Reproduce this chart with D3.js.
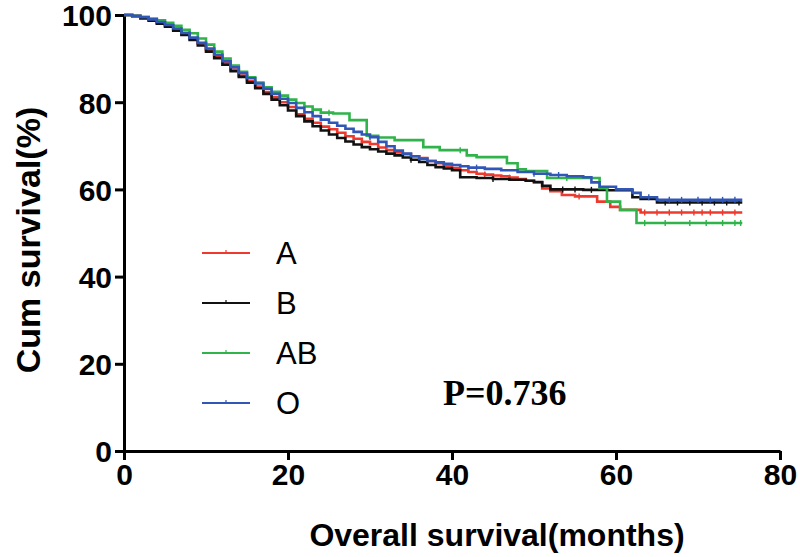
<!DOCTYPE html>
<html>
<head>
<meta charset="utf-8">
<script src="https://cdn.jsdelivr.net/npm/d3@7"></script>
<style>
  body { margin: 0; background: #fff; }
  svg { display: block; }
</style>
</head>
<body>
<div id="chart"></div>
<script>
// survival curves: [month, cum survival %]
const groups = ["A", "B", "AB", "O"];
const colors = ["#ee3a2e", "#111111", "#2fb34a", "#3157b6"];

const curveA = [[0,100],[1,99.8],[2,99.4],[3,98.9],[4,98.3],[5,97.6],[6,96.7],[7,95.7],[8,94.6],[9,93.4],[10,92.0],[11,90.5],[12,89.0],[13,87.5],[14,86.1],[15,84.8],[16,83.6],[17,82.3],[18,81.1],[19,80.0],[20,78.9],[21,77.2],[22,76.2],[23,75.3],[24,74.4],[25,73.8],[26,73.0],[27,72.2],[28,71.6],[29,70.9],[30,70.4],[31,69.6],[32,69.0],[33,68.5],[34,68.1],[35,67.6],[36,67.2],[37,66.5],[38,66.0],[39,65.4],[40,64.9],[41,64.4],[42,64.0],[43,63.6],[44,63.4],[45,63.2],[46,63.0],[47,62.7],[48,62.4],[49,62.0],[50,61.6],[51,60.2],[52,59.6],[53.4,58.7],[55,58.4],[57.7,57.2],[59.3,56.0],[60.5,55.3],[63,54.7],[75.4,54.7]];
const curveB = [[0,100],[1,99.7],[2,99.2],[3,98.7],[4,98.0],[5,97.3],[6,96.4],[7,95.4],[8,94.3],[9,93.0],[10,91.6],[11,90.1],[12,88.6],[13,87.1],[14,85.8],[15,84.5],[16,83.2],[17,81.9],[18,80.6],[19,79.3],[20,78.1],[21,76.8],[22,75.6],[23,74.5],[24,73.5],[25,72.6],[26,71.8],[27,71.0],[28,70.3],[29,69.7],[30,69.2],[31,68.7],[32,68.2],[33,67.8],[34,67.3],[35,66.8],[36,66.3],[37,65.6],[38,65.1],[39,64.8],[40,64.4],[41,62.8],[43,62.6],[45,62.4],[47,62.2],[49,62.0],[50,61.7],[51,60.8],[52,60.0],[56,59.9],[59,59.8],[62,58.2],[63,57.8],[65,57.0],[75.4,57.0]];
const curveAB = [[0,100],[1,99.8],[2,99.6],[3,99.2],[4,98.8],[5,98.2],[6,97.5],[7,96.6],[8,95.8],[9,94.6],[10,93.2],[11,91.6],[12,90.0],[13,88.4],[14,87.0],[15,85.7],[16,84.5],[17,83.4],[18,82.4],[19,81.5],[20,80.6],[21,79.8],[22,79.0],[23,78.3],[24,77.6],[25.5,77.4],[27.5,75.9],[29.6,72.3],[31,71.9],[33,71.3],[36.5,69.7],[38.5,69.0],[41.8,67.8],[43,67.4],[46.7,66.0],[48,64.6],[49,64.2],[51.6,62.6],[58,60.3],[58.9,57.2],[60.5,55.3],[62.5,52.3],[75.4,52.3]];
const curveO = [[0,100],[1,99.8],[2,99.5],[3,99.0],[4,98.4],[5,97.7],[6,96.9],[7,95.9],[8,94.8],[9,93.6],[10,92.3],[11,90.9],[12,89.4],[13,88.0],[14,86.7],[15,85.5],[16,84.3],[17,83.1],[18,81.9],[19,80.8],[20,79.8],[21,78.7],[22,77.7],[23,76.8],[24,76.0],[25,75.3],[26,74.6],[27,73.9],[28,73.2],[29,72.6],[30,72.0],[31,70.9],[32,69.9],[33,68.9],[34,68.2],[35,67.6],[36,67.0],[37,66.5],[38,66.2],[39,65.9],[40,65.6],[41,65.3],[42,65.0],[44,64.7],[46,64.4],[48,64.0],[50,63.6],[52,63.3],[54,63.0],[56,62.8],[57,61.6],[58,60.6],[60,60.0],[62,59.2],[63,58.2],[65,57.6],[75.4,57.6]];

// censored times (small tick marks)
const censorA = [44, 47, 55.5, 63.5, 65, 66.5, 68, 69.5, 70.5, 71.5, 73, 74.5];
const censorB = [35, 45, 53.5, 55, 57, 66, 67.5, 69, 70.5, 72, 73.5, 75];
const censorAB = [25, 41, 54, 63.5, 66, 69, 71, 73, 74.5, 75.2];
const censorO = [30, 43, 50, 53, 64, 66.5, 68, 70, 71.5, 73, 74.5];

const xTicks = [0, 20, 40, 60, 80];
const yTicks = [0, 20, 40, 60, 80, 100];
const pText = "P=0.736";

const curves = [curveA, curveB, curveAB, curveO];
const censors = [censorA, censorB, censorAB, censorO];

const W = 800, H = 557;
const svg = d3.select("#chart").append("svg")
    .attr("width", W)
    .attr("height", H);

var x = d3.scaleLinear().domain([0, 80]).range([124, 780]);
var y = d3.scaleLinear().domain([0, 100]).range([451, 15]);

// axes
var xAxis = svg.append("g")
    .attr("transform", "translate(0," + y(0) + ")")
    .call(d3.axisBottom(x).tickValues(xTicks).tickSize(9).tickSizeOuter(0).tickPadding(3));
var yAxis = svg.append("g")
    .attr("transform", "translate(" + x(0) + ",0)")
    .call(d3.axisLeft(y).tickValues(yTicks).tickSize(9).tickSizeOuter(0).tickPadding(3));

[xAxis, yAxis].forEach(function(g) {
    g.select(".domain").attr("stroke", "#000").attr("stroke-width", 3);
    g.selectAll(".tick line").attr("stroke", "#000").attr("stroke-width", 3);
    g.selectAll("text")
        .attr("fill", "#000")
        .style("font-family", "'Liberation Sans', Arial, sans-serif")
        .style("font-weight", "bold")
        .style("font-size", "30px");
});
yAxis.selectAll("text").attr("dy", "0.36em");
xAxis.selectAll("text").attr("dy", "0.74em");

// step curves
var line = d3.line()
    .x(function(d) { return x(d[0]); })
    .y(function(d) { return y(d[1]); })
    .curve(d3.curveStepAfter);

// survival value at a given time, looked up in the step data
function survAt(c, t) {
    var i = d3.bisector(function(d) { return d[0]; }).right(c, t) - 1;
    return c[Math.max(0, i)][1];
}

curves.forEach(function(c, i) {
    svg.append("path")
        .datum(c)
        .attr("fill", "none")
        .attr("stroke", colors[i])
        .attr("stroke-width", 2.6)
        .attr("d", line);
    svg.selectAll(".cens" + i)
        .data(censors[i])
        .join("line")
        .attr("stroke", colors[i])
        .attr("stroke-width", 1.4)
        .attr("x1", function(t) { return x(t); })
        .attr("x2", function(t) { return x(t); })
        .attr("y1", function(t) { return y(survAt(c, t)) - 3; })
        .attr("y2", function(t) { return y(survAt(c, t)) + 3; });
});

// legend
var legend = svg.append("g");
groups.forEach(function(g, i) {
    var ly = 253 + i * 50;
    legend.append("line")
        .attr("x1", 202).attr("x2", 250)
        .attr("y1", ly).attr("y2", ly)
        .attr("stroke", colors[i]).attr("stroke-width", 2);
    legend.append("line")
        .attr("x1", 226).attr("x2", 226)
        .attr("y1", ly - 3).attr("y2", ly + 1)
        .attr("stroke", colors[i]).attr("stroke-width", 1.2);
    legend.append("text")
        .attr("x", 276).attr("y", ly)
        .attr("dy", "0.36em")
        .style("font-family", "'Liberation Sans', Arial, sans-serif")
        .style("font-size", "31px")
        .attr("fill", "#000")
        .text(g);
});

// p value
svg.append("text")
    .attr("x", 443).attr("y", 405)
    .style("font-family", "'Liberation Serif', 'Times New Roman', serif")
    .style("font-weight", "bold")
    .style("font-size", "36px")
    .attr("fill", "#000")
    .text(pText);

// axis titles
svg.append("text")
    .attr("x", 497)
    .attr("y", 546)
    .attr("text-anchor", "middle")
    .style("font-family", "'Liberation Sans', Arial, sans-serif")
    .style("font-weight", "bold")
    .style("font-size", "32px")
    .text("Overall survival(months)");
svg.append("text")
    .attr("transform", "translate(40,240) rotate(-90)")
    .attr("text-anchor", "middle")
    .style("font-family", "'Liberation Sans', Arial, sans-serif")
    .style("font-weight", "bold")
    .style("font-size", "34px")
    .text("Cum survival(%)");
</script>
</body>
</html>
